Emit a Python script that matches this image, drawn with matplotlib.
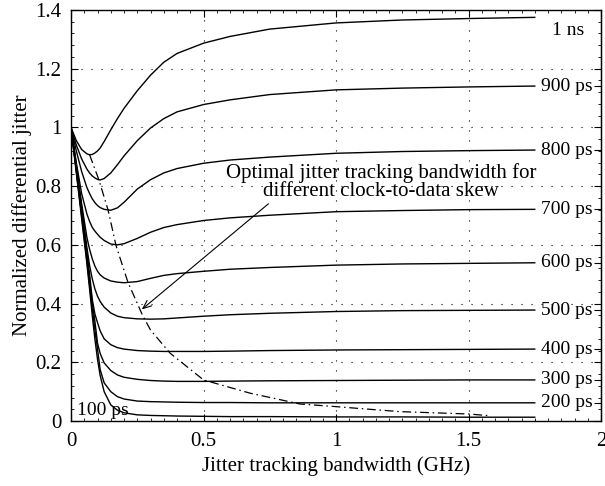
import matplotlib
matplotlib.use("Agg")
import matplotlib.pyplot as plt
from matplotlib.ticker import MultipleLocator

plt.rcParams['font.family'] = ['Liberation Serif', 'DejaVu Serif']

# bandwidth samples (GHz), shared by every skew curve
bw = [0, 0.02, 0.04, 0.06, 0.07, 0.08, 0.09, 0.1, 0.11, 0.125, 0.15, 0.175,
      0.2, 0.25, 0.3, 0.35, 0.4, 0.5, 0.6, 0.75, 1.0, 1.25, 1.5, 1.75]

# normalized differential jitter
j_100ps = [1, 0.845, 0.69, 0.535, 0.45, 0.36, 0.28, 0.21, 0.155, 0.1, 0.055, 0.037,
           0.028, 0.021, 0.019, 0.018, 0.017, 0.016, 0.015, 0.015, 0.014, 0.014, 0.013, 0.013]
j_200ps = [1, 0.85, 0.70, 0.545, 0.465, 0.385, 0.31, 0.245, 0.175, 0.13, 0.1, 0.083,
           0.075, 0.068, 0.066, 0.065, 0.064, 0.063, 0.063, 0.062, 0.062, 0.062, 0.062, 0.062]
j_300ps = [1, 0.855, 0.71, 0.56, 0.48, 0.405, 0.34, 0.265, 0.23, 0.198, 0.172, 0.157,
           0.149, 0.142, 0.138, 0.136, 0.135, 0.135, 0.136, 0.137, 0.138, 0.139, 0.14, 0.14]
j_400ps = [1, 0.86, 0.72, 0.575, 0.50, 0.415, 0.365, 0.335, 0.307, 0.28, 0.26, 0.25,
           0.245, 0.24, 0.238, 0.237, 0.237, 0.237, 0.238, 0.24, 0.242, 0.243, 0.244, 0.245]
j_500ps = [1, 0.865, 0.73, 0.59, 0.53, 0.485, 0.45, 0.425, 0.407, 0.388, 0.368, 0.357,
           0.352, 0.348, 0.347, 0.348, 0.351, 0.357, 0.362, 0.367, 0.373, 0.376, 0.377, 0.378]
j_600ps = [1, 0.87, 0.74, 0.625, 0.585, 0.553, 0.528, 0.51, 0.498, 0.487, 0.477, 0.473,
           0.471, 0.475, 0.486, 0.496, 0.502, 0.51, 0.517, 0.523, 0.531, 0.535, 0.537, 0.539]
j_700ps = [1, 0.88, 0.775, 0.705, 0.68, 0.66, 0.647, 0.636, 0.626, 0.615, 0.603, 0.6,
           0.604, 0.622, 0.643, 0.659, 0.669, 0.683, 0.692, 0.701, 0.713, 0.717, 0.72, 0.721]
j_800ps = [1, 0.92, 0.85, 0.795, 0.775, 0.757, 0.744, 0.734, 0.727, 0.721, 0.718, 0.726,
           0.745, 0.79, 0.822, 0.845, 0.86, 0.878, 0.889, 0.899, 0.912, 0.918, 0.921, 0.923]
j_900ps = [1, 0.94, 0.893, 0.858, 0.845, 0.835, 0.828, 0.823, 0.821, 0.826, 0.845, 0.873,
           0.903, 0.955, 0.998, 1.03, 1.053, 1.078, 1.094, 1.112, 1.128, 1.134, 1.138, 1.141]
j_1ns = [1, 0.955, 0.925, 0.91, 0.907, 0.908, 0.913, 0.92, 0.93, 0.952, 0.992, 1.03,
         1.065, 1.125, 1.178, 1.222, 1.252, 1.287, 1.31, 1.335, 1.356, 1.366, 1.371, 1.375]

curves = [j_100ps, j_200ps, j_300ps, j_400ps, j_500ps,
          j_600ps, j_700ps, j_800ps, j_900ps, j_1ns]
labels = ['100 ps', '200 ps', '300 ps', '400 ps', '500 ps',
          '600 ps', '700 ps', '800 ps', '900 ps', '1 ns']

# locus of the minima (optimal tracking bandwidth)
opt_bw = [0.07, 0.105, 0.14, 0.17, 0.215, 0.27, 0.3, 0.374, 0.5, 0.675,
          0.864, 1.0, 1.24, 1.5, 1.58]
opt_j = [0.907, 0.822, 0.718, 0.597, 0.472, 0.36, 0.31, 0.231, 0.14, 0.095,
         0.058, 0.049, 0.032, 0.024, 0.018]

xticks = [0, 0.5, 1, 1.5, 2]
xticklabels = ['0', '0.5', '1', '1.5', '2']
yticks = [0, 0.2, 0.4, 0.6, 0.8, 1.0, 1.2, 1.4]
yticklabels = ['0', '0.2', '0.4', '0.6', '0.8', '1', '1.2', '1.4']

fig = plt.figure(figsize=(6.05, 4.86), dpi=100)
ax = fig.add_axes([0.1174, 0.1337, 0.876, 0.8457])

for y, lab in zip(curves, labels):
    ax.plot(bw, y, color='black', lw=1.0)
    if lab == '100 ps':
        ax.text(0.023, 0.022, lab, fontsize=14, va='baseline', ha='left')
    elif lab == '1 ns':
        ax.text(1.815, y[-1] - 0.045, lab, fontsize=14, va='center', ha='left')
    else:
        ax.text(1.775, y[-1], lab, fontsize=14, va='center', ha='left')

ax.plot(opt_bw, opt_j, color='black', lw=0.9, dashes=[7, 3, 1.2, 3])

ax.text(1.17, 0.815, 'Optimal jitter tracking bandwidth for\ndifferent clock-to-data skew',
        fontsize=15, ha='center', va='center', multialignment='center', linespacing=0.95)
ax.annotate('', xy=(0.267, 0.38), xytext=(0.745, 0.74),
            arrowprops=dict(arrowstyle='->,head_length=0.6,head_width=0.25',
                            lw=0.8, color='black', shrinkA=0, shrinkB=0))

ax.set_xlim(0, 2)
ax.set_ylim(0, 1.4)
ax.set_xticks(xticks)
ax.set_xticklabels(xticklabels)
ax.set_yticks(yticks)
ax.set_yticklabels(yticklabels)
ax.xaxis.set_minor_locator(MultipleLocator(0.05))
ax.yaxis.set_minor_locator(MultipleLocator(0.04))
ax.tick_params(which='both', direction='in', top=True, right=True, labelsize=15)
ax.tick_params(which='major', length=5, width=0.8)
ax.tick_params(which='minor', length=2.5, width=0.6)
ax.tick_params(axis='x', pad=8)
ax.tick_params(axis='y', pad=7)
ax.grid(True, which='major', color='black', lw=0.8, linestyle=(0, (1, 8)))

# short marks on the right frame next to the end labels
sec = ax.secondary_yaxis('right')
sec.set_yticks([c[-1] for c in curves[1:9]])
sec.set_yticklabels([])
sec.tick_params(direction='in', length=5, width=0.8)

ax.set_xlabel('Jitter tracking bandwidth (GHz)', fontsize=15, labelpad=4)
ax.set_ylabel('Normalized differential jitter', fontsize=15, labelpad=2)
for s in ax.spines.values():
    s.set_linewidth(1.0)

fig.savefig('out.png', dpi=100)
